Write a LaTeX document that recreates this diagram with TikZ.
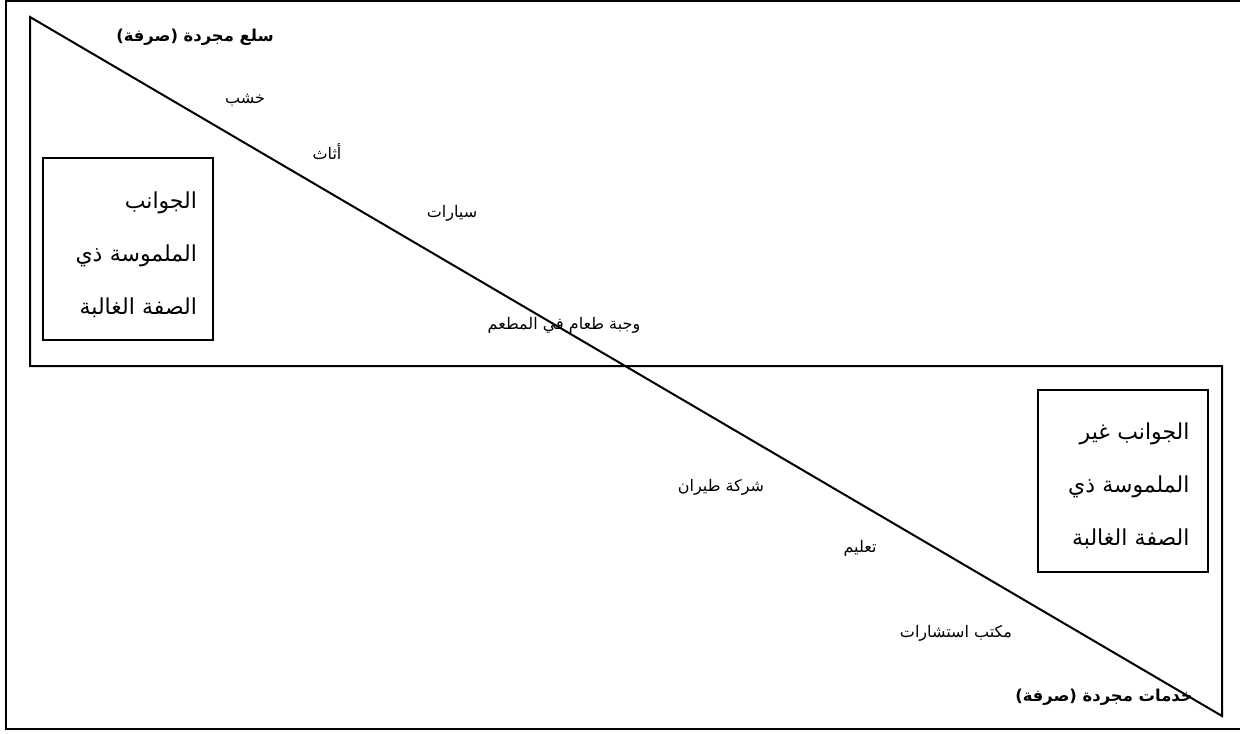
\documentclass[tikz,border=0pt]{standalone}
\usepackage{fontspec}
\TeXXeTstate=1
\newfontfamily\arabicfont[Script=Arabic]{DejaVu Sans}
\begin{document}
\begin{tikzpicture}[x=0.5pt,y=-0.5pt,
  frameline/.style={line width=1.2pt},
  shapeline/.style={line width=1pt,line join=miter},
  lbl/.style={font=\arabicfont\fontsize{8}{9.5}\selectfont,inner sep=0pt},
  boldlbl/.style={font=\arabicfont\bfseries\fontsize{8.2}{10}\selectfont,inner sep=0pt},
  sidebox/.style={draw,line width=1pt,minimum width=85pt,minimum height=91pt,inner sep=0pt},
  boxtext/.style={text width=69pt,align=right,inner sep=0pt,
    font=\arabicfont\fontsize{11}{26.5}\selectfont}]
\useasboundingbox (0,0) rectangle (1240,733);
% outer frame
\draw[frameline] (1241,1) -- (6,1) -- (6,729) -- (1241,729);
% main shape
\coordinate (tl) at (30,17);
\coordinate (bl) at (30,366);
\coordinate (br) at (1222,366);
\coordinate (be) at (1222,716);
\draw[shapeline] (tl) -- (bl) -- (br) -- (be) -- cycle;
% side boxes
\node[sidebox] (leftbox) at (128,249) {};
\node[boxtext] (lefttext) at ([yshift=-3pt]leftbox.center) {\beginR الجوانب\endR\\\beginR الملموسة ذي\endR\\\beginR الصفة الغالبة\endR};
\node[sidebox] (rightbox) at (1122.5,480.5) {};
\node[boxtext] (righttext) at ([yshift=-2.5pt,xshift=-1pt]rightbox.center) {\beginR الجوانب غير\endR\\\beginR الملموسة ذي\endR\\\beginR الصفة الغالبة\endR};
% labels
\node[boldlbl] (goods) at (195,37) {\beginR سلع مجردة (صرفة)\endR};
\node[lbl] (wood) at (245,100) {\beginR خشب\endR};
\node[lbl] (furn) at (327,152) {\beginR أثاث\endR};
\node[lbl] (cars) at (452,213) {\beginR سيارات\endR};
\node[lbl] (meal) at (564,325) {\beginR وجبة طعام في المطعم\endR};
\node[lbl] (air) at (721,487) {\beginR شركة طيران\endR};
\node[lbl] (edu) at (860,548) {\beginR تعليم\endR};
\node[lbl] (cons) at (956,633) {\beginR مكتب استشارات\endR};
\node[boldlbl] (serv) at (1104,697) {\beginR خدمات مجردة (صرفة)\endR};
\end{tikzpicture}
\end{document}
